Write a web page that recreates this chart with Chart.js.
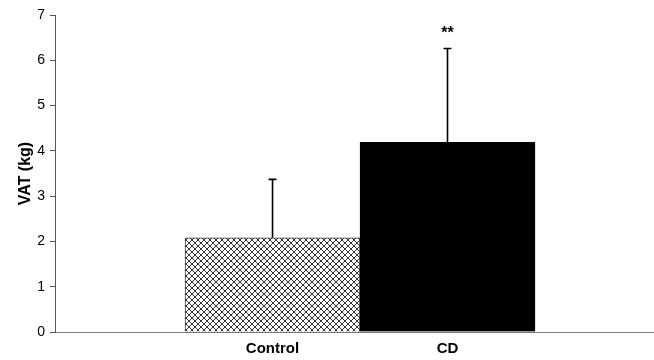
<!DOCTYPE html>
<html>
<head>
<meta charset="utf-8">
<script src="https://cdn.jsdelivr.net/npm/chart.js@4"></script>
<style>
  html, body { margin: 0; padding: 0; background: #fff; }
  #wrap { width: 654px; height: 360px; }
</style>
</head>
<body>
<div id="wrap"><canvas id="chart" width="654" height="360"></canvas></div>
<script>
// data
const categories = ["Control", "CD"];
const vat = [2.08, 4.19];
const sd = [1.29, 2.07];
const marks = ["", "**"];
const yTicks = [0, 1, 2, 3, 4, 5, 6, 7];

// layout of the x axis, in bar widths
const firstBar = 1.243;
const xRange = 3.423;

const font = "'Liberation Sans', Arial, sans-serif";

function hatch() {
  const c = document.createElement("canvas");
  c.width = 6; c.height = 6;
  const g = c.getContext("2d");
  g.fillStyle = "#fff";
  g.fillRect(0, 0, 6, 6);
  g.strokeStyle = "#333";
  g.lineWidth = 1;
  g.beginPath();
  g.moveTo(0, 0); g.lineTo(6, 6);
  g.moveTo(6, 0); g.lineTo(0, 6);
  g.stroke();
  return g.createPattern(c, "repeat");
}

const errorBars = {
  id: "errorBars",
  afterDatasetsDraw(ch) {
    const ctx = ch.ctx;
    const y = ch.scales.y;
    const meta = ch.getDatasetMeta(0);
    ctx.save();
    meta.data.forEach((bar, i) => {
      const top = y.getPixelForValue(vat[i] + sd[i]);
      ctx.strokeStyle = "#000";
      ctx.lineWidth = 1.6;
      ctx.beginPath();
      ctx.moveTo(bar.x, bar.y);
      ctx.lineTo(bar.x, top);
      ctx.moveTo(bar.x - 4, top);
      ctx.lineTo(bar.x + 4, top);
      ctx.stroke();
      if (marks[i]) {
        ctx.fillStyle = "#000";
        ctx.font = "bold 16px " + font;
        ctx.textAlign = "center";
        ctx.textBaseline = "middle";
        ctx.fillText(marks[i], bar.x, top - 15);
      }
    });
    ctx.restore();
  }
};

new Chart(chart, {
  type: "bar",
  data: {
    datasets: [{
      data: vat.map((v, i) => ({ x: firstBar + i, y: v })),
      backgroundColor: [hatch(), "#000"],
      borderColor: ["#333", "#000"],
      borderWidth: 1,
      categoryPercentage: 1,
      barPercentage: 1
    }]
  },
  options: {
    responsive: false,
    animation: false,
    layout: { padding: { top: 15, right: 0, left: 0, bottom: 0 } },
    plugins: { legend: { display: false }, tooltip: { enabled: false } },
    scales: {
      x: {
        type: "linear",
        min: 0,
        max: xRange,
        offset: false,
        afterBuildTicks: s => { s.ticks = categories.map((c, i) => ({ value: firstBar + i })); },
        afterFit: s => { s.height = 28; },
        grid: { display: false, drawTicks: false, offset: false },
        border: { color: "#777", width: 1 },
        ticks: {
          callback: (v, i) => categories[i],
          color: "#000",
          padding: 8,
          maxRotation: 0,
          font: { family: font, size: 15, weight: "bold" }
        }
      },
      y: {
        min: 0,
        max: 7,
        afterBuildTicks: s => { s.ticks = yTicks.map(v => ({ value: v })); },
        afterFit: s => { s.width = 55; },
        grid: { drawOnChartArea: false, tickLength: 5, color: "#555" },
        border: { color: "#555", width: 1 },
        ticks: {
          color: "#000",
          padding: 5,
          font: { family: font, size: 14 }
        },
        title: {
          display: true,
          text: "VAT (kg)",
          color: "#000",
          padding: { top: 16, bottom: 0 },
          font: { family: font, size: 16, weight: "bold" }
        }
      }
    }
  },
  plugins: [errorBars]
});
</script>
</body>
</html>
